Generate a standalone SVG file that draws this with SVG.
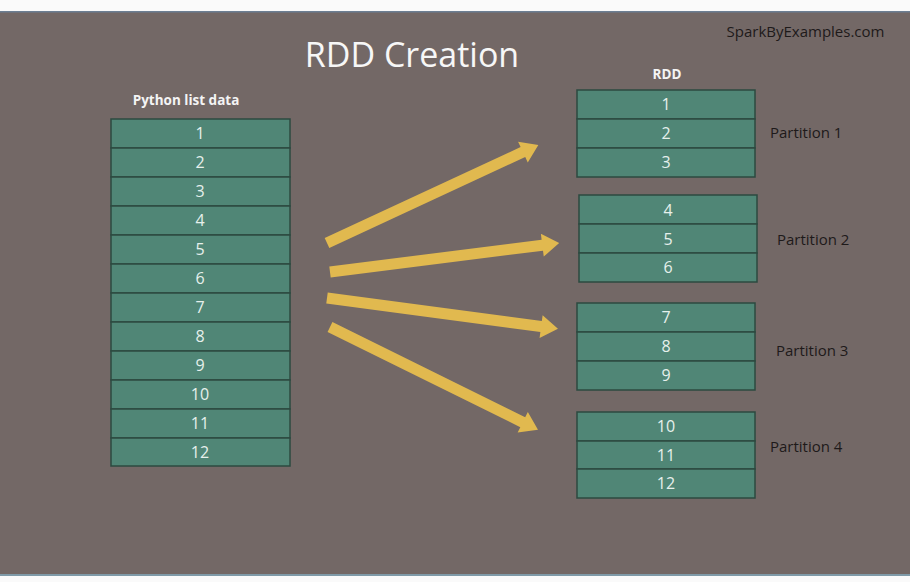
<svg xmlns="http://www.w3.org/2000/svg" width="910" height="582" viewBox="0 0 910 582">
<style>
.cell{fill:#508676;stroke:#2c4a40;stroke-width:1.5}
.num{font-family:"Open Sans","Liberation Sans",sans-serif;font-size:16px;fill:#e6f0ec;text-anchor:middle}
.lbl{font-family:"Open Sans","Liberation Sans",sans-serif;font-size:15px;fill:#1e1a1a}
.hdr{font-family:"Open Sans","Liberation Sans",sans-serif;font-size:13.5px;font-weight:bold;fill:#f4f4f4;text-anchor:middle}
.arrow{fill:#e1b94f}
</style>
<rect x="0" y="0" width="910" height="582" fill="#fafafa"/>
<rect x="0" y="11" width="910" height="564" fill="#736866"/>
<rect x="0" y="11" width="910" height="1.5" fill="#6d7f93"/>
<rect x="0" y="574" width="910" height="2" fill="#7f9aa8"/>
<text x="412" y="67" font-family="'Open Sans','Liberation Sans',sans-serif" font-size="34" fill="#f7f7f7" text-anchor="middle">RDD Creation</text>
<text x="805.5" y="37" class="lbl" font-size="14.2" text-anchor="middle">SparkByExamples.com</text>
<text x="186" y="105" class="hdr">Python list data</text>
<text x="667" y="79" class="hdr">RDD</text>
<g id="python-list">
<rect class="cell" x="111" y="119" width="179" height="29"/><text class="num" x="200" y="139">1</text>
<rect class="cell" x="111" y="148" width="179" height="29"/><text class="num" x="200" y="168">2</text>
<rect class="cell" x="111" y="177" width="179" height="29"/><text class="num" x="200" y="197">3</text>
<rect class="cell" x="111" y="206" width="179" height="29"/><text class="num" x="200" y="226">4</text>
<rect class="cell" x="111" y="235" width="179" height="29"/><text class="num" x="200" y="255">5</text>
<rect class="cell" x="111" y="264" width="179" height="29"/><text class="num" x="200" y="284">6</text>
<rect class="cell" x="111" y="293" width="179" height="29"/><text class="num" x="200" y="313">7</text>
<rect class="cell" x="111" y="322" width="179" height="29"/><text class="num" x="200" y="342">8</text>
<rect class="cell" x="111" y="351" width="179" height="29"/><text class="num" x="200" y="371">9</text>
<rect class="cell" x="111" y="380" width="179" height="29"/><text class="num" x="200" y="400">10</text>
<rect class="cell" x="111" y="409" width="179" height="29"/><text class="num" x="200" y="429">11</text>
<rect class="cell" x="111" y="438" width="179" height="28"/><text class="num" x="200" y="458">12</text>
</g>
<g id="partition-1">
<rect class="cell" x="577" y="90" width="178" height="29"/><text class="num" x="666" y="110">1</text>
<rect class="cell" x="577" y="119" width="178" height="29"/><text class="num" x="666" y="139">2</text>
<rect class="cell" x="577" y="148" width="178" height="29"/><text class="num" x="666" y="168">3</text>
<text class="lbl" x="770" y="138">Partition 1</text>
</g>
<g id="partition-2">
<rect class="cell" x="579" y="195" width="178" height="29"/><text class="num" x="668" y="216">4</text>
<rect class="cell" x="579" y="224" width="178" height="29"/><text class="num" x="668" y="245">5</text>
<rect class="cell" x="579" y="253" width="178" height="29"/><text class="num" x="668" y="273">6</text>
<text class="lbl" x="777" y="245">Partition 2</text>
</g>
<g id="partition-3">
<rect class="cell" x="577" y="303" width="178" height="29"/><text class="num" x="666" y="323">7</text>
<rect class="cell" x="577" y="332" width="178" height="29"/><text class="num" x="666" y="352">8</text>
<rect class="cell" x="577" y="361" width="178" height="29"/><text class="num" x="666" y="381">9</text>
<text class="lbl" x="776" y="356">Partition 3</text>
</g>
<g id="partition-4">
<rect class="cell" x="577" y="412" width="178" height="29"/><text class="num" x="666" y="432">10</text>
<rect class="cell" x="577" y="441" width="178" height="28"/><text class="num" x="666" y="461">11</text>
<rect class="cell" x="577" y="469" width="178" height="29"/><text class="num" x="666" y="489">12</text>
<text class="lbl" x="770" y="452">Partition 4</text>
</g>
<g id="connectors">
<path class="arrow" transform="translate(327,243) rotate(-24.9)" d="M0,-5.5 L216,-5.5 L216,-11.5 L233,0 L216,11.5 L216,5.5 L0,5.5 Z"/>
<path class="arrow" transform="translate(330,272) rotate(-7.2)" d="M0,-5.5 L214,-5.5 L214,-11.5 L231,0 L214,11.5 L214,5.5 L0,5.5 Z"/>
<path class="arrow" transform="translate(327,298) rotate(7.6)" d="M0,-5.5 L216,-5.5 L216,-11.5 L233,0 L216,11.5 L216,5.5 L0,5.5 Z"/>
<path class="arrow" transform="translate(330,327) rotate(26.3)" d="M0,-5.5 L215,-5.5 L215,-11.5 L232,0 L215,11.5 L215,5.5 L0,5.5 Z"/>
</g>
</svg>
